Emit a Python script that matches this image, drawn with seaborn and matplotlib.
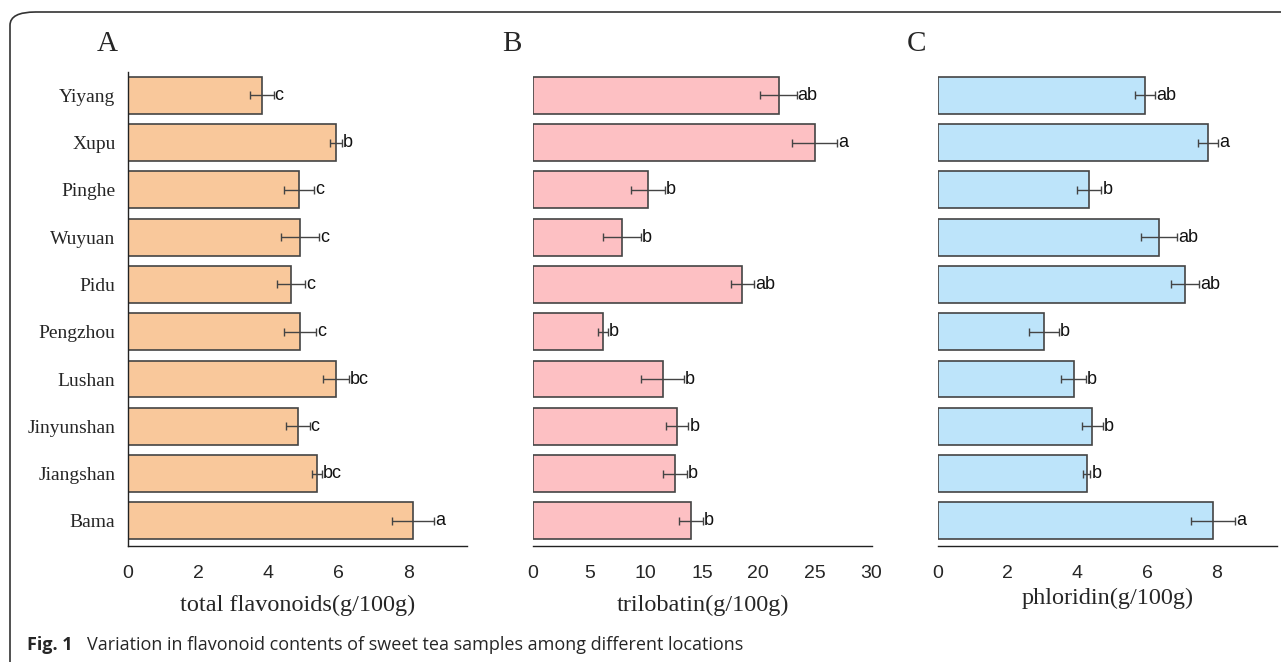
import matplotlib
matplotlib.use("Agg")
import matplotlib.pyplot as plt
from matplotlib.patches import FancyBboxPatch
import numpy as np
import seaborn as sns

# data (top to bottom)
locations = ['Yiyang', 'Xupu', 'Pinghe', 'Wuyuan', 'Pidu', 'Pengzhou',
             'Lushan', 'Jinyunshan', 'Jiangshan', 'Bama']

flavonoids = [3.82, 5.93, 4.87, 4.90, 4.64, 4.90, 5.93, 4.84, 5.38, 8.12]
flavonoids_err = [0.33, 0.17, 0.43, 0.54, 0.40, 0.46, 0.37, 0.34, 0.14, 0.60]
flavonoids_sig = ['c', 'b', 'c', 'c', 'c', 'c', 'bc', 'c', 'bc', 'a']

trilobatin = [21.8, 25.0, 10.2, 7.9, 18.6, 6.2, 11.5, 12.8, 12.6, 14.0]
trilobatin_err = [1.6, 2.0, 1.5, 1.7, 1.0, 0.44, 1.9, 1.0, 1.07, 1.06]
trilobatin_sig = ['ab', 'a', 'b', 'b', 'ab', 'b', 'b', 'b', 'b', 'b']

phloridin = [5.94, 7.74, 4.34, 6.34, 7.09, 3.03, 3.89, 4.43, 4.26, 7.89]
phloridin_err = [0.29, 0.29, 0.35, 0.51, 0.40, 0.43, 0.36, 0.31, 0.11, 0.63]
phloridin_sig = ['ab', 'a', 'b', 'ab', 'ab', 'b', 'b', 'b', 'b', 'a']

panels = [
    ('A', flavonoids, flavonoids_err, flavonoids_sig, '#F9C89B',
     'total flavonoids(g/100g)', 9.66, [0, 2, 4, 6, 8], 0.0999),
    ('B', trilobatin, trilobatin_err, trilobatin_sig, '#FDC0C3',
     'trilobatin(g/100g)', 30.1, [0, 5, 10, 15, 20, 25, 30], 0.4161),
    ('C', phloridin, phloridin_err, phloridin_sig, '#BDE4FA',
     'phloridin(g/100g)', 9.72, [0, 2, 4, 6, 8], 0.7322),
]

sns.set_style('white')
serif = 'Liberation Serif'
sans = 'Liberation Sans'

fig = plt.figure(figsize=(12.81, 6.62), dpi=100)

# rounded frame of the journal figure box (only top and left edges show)
frame = FancyBboxPatch((10 / 1281, -0.2), 1.2, 1 - 12 / 662 + 0.2,
                       boxstyle='round,pad=0,rounding_size=0.02',
                       transform=fig.transFigure, facecolor='none',
                       edgecolor='#333333', linewidth=1.2, clip_on=False)
fig.patches.append(frame)

for i, (letter, vals, errs, sigs, colour, xlab, xmax, ticks, left) in enumerate(panels):
    ax = fig.add_axes([left, 0.1752, 0.2646, 0.716])
    sns.barplot(x=vals, y=locations, orient='h', color=colour,
                edgecolor='#444444', linewidth=1.2, width=0.78,
                saturation=1, ax=ax)
    ypos = np.arange(len(locations))
    ax.errorbar(vals, ypos, xerr=errs, fmt='none', ecolor='#444444',
                elinewidth=1, capsize=3, capthick=1)
    step = xmax / 100
    for y, v, e, s in zip(ypos, vals, errs, sigs):
        ax.text(v + e + step * 0.3, y, s, va='center', ha='left',
                fontsize=13, family=sans, color='#111111')
    ax.set_xlim(0, xmax)
    ax.set_ylim(9.53, -0.49)
    ax.set_xticks(ticks)
    ax.set_xticklabels([str(t) for t in ticks], family=sans, fontsize=14)
    ax.tick_params(axis='x', length=0, pad=14)
    ax.set_xlabel(xlab, family=serif, fontsize=17.5, labelpad=9 if i < 2 else 4)
    for sp in ['top', 'right']:
        ax.spines[sp].set_visible(False)
    ax.spines['bottom'].set_color('#222222')
    ax.spines['bottom'].set_linewidth(1)
    if i == 0:
        ax.spines['left'].set_color('#222222')
        ax.spines['left'].set_linewidth(1)
        ax.set_yticks(ypos)
        ax.set_yticklabels(locations, family=serif, fontsize=14)
        ax.tick_params(axis='y', length=0, pad=9)
    else:
        ax.spines['left'].set_visible(False)
        ax.set_yticks([])
    ax.set_ylabel('')
    fig.text(left - 0.0165, 1 - 44 / 662, letter, family=serif, fontsize=21,
             ha='center', va='center')

fig.text(27 / 1281, 1 - 645 / 662, 'Fig. 1', family='Open Sans',
         fontweight='bold', fontsize=13, va='center', ha='left')
fig.text(87 / 1281, 1 - 645 / 662,
         'Variation in flavonoid contents of sweet tea samples among different locations',
         family='Open Sans', fontsize=13, va='center', ha='left')

fig.savefig('out.png', dpi=100)
